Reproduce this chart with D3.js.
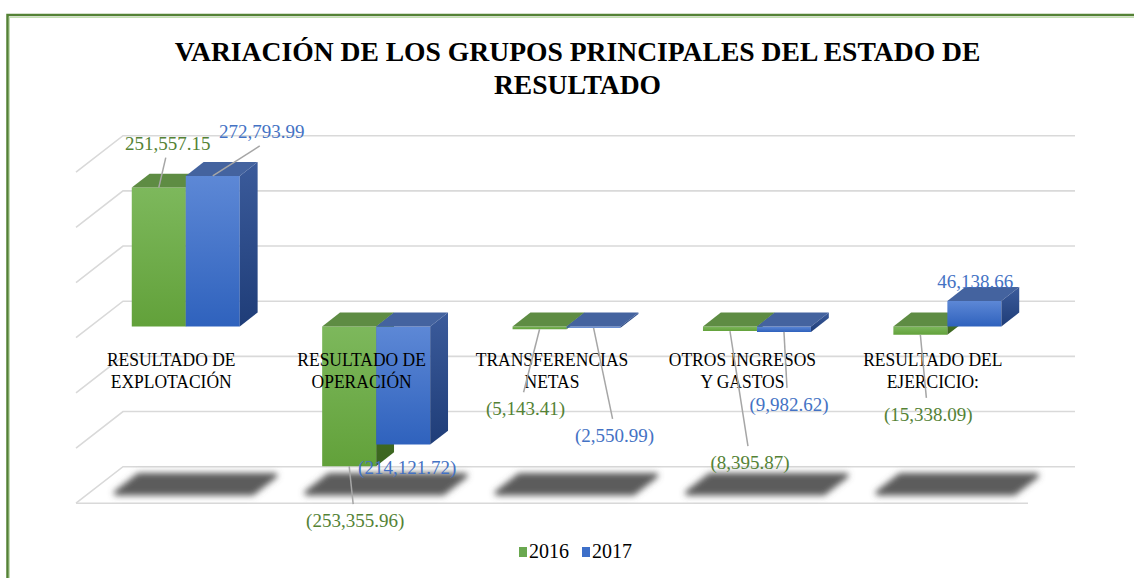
<!DOCTYPE html>
<html>
<head>
<meta charset="utf-8">
<script src="https://cdn.jsdelivr.net/npm/d3@7"></script>
<style>
  body { margin: 0; background: #fff; }
  text { font-family: "Liberation Serif", "Times New Roman", serif; }
</style>
</head>
<body>
<div id="chart"></div>
<script>
// data
var categories = [
  ['RESULTADO DE', 'EXPLOTACIÓN'],
  ['RESULTADO DE', 'OPERACIÓN'],
  ['TRANSFERENCIAS', 'NETAS'],
  ['OTROS INGRESOS', 'Y GASTOS'],
  ['RESULTADO DEL', 'EJERCICIO:']
];
var series = ['2016', '2017'];
var values2016 = [251557.15, -253355.96, -5143.41, -8395.87, -15338.09];
var values2017 = [272793.99, -214121.72, -2550.99, -9982.62, 46138.66];
var yTicks = [-300000, -200000, -100000, 0, 100000, 200000, 300000];
var titleLines = ['VARIACIÓN DE LOS GRUPOS PRINCIPALES DEL ESTADO DE', 'RESULTADO'];

// label nudges (dragged labels in the original), relative to bar end
var nudge2016 = [[9, -45], [6, 54], [-14, 79], [20, 131], [8, 79]];
var nudge2017 = [[49, -45], [4, 22], [21, 107], [5, 72], [1, -20]];

var width = 1134, height = 578;
var DX = 47, DY = 36.5;          // full depth offset of the 3d box
var Z0 = 0.31, Z1 = 0.69;        // bar depth range

var svg = d3.select('#chart').append('svg')
  .attr('width', width).attr('height', height);

var defs = svg.append('defs');
function grad(id, c1, c2) {
  var g = defs.append('linearGradient').attr('id', id)
    .attr('x1', 0).attr('y1', 0).attr('x2', 0).attr('y2', 1);
  g.append('stop').attr('offset', '0%').attr('stop-color', c1);
  g.append('stop').attr('offset', '100%').attr('stop-color', c2);
}
grad('gFront0', '#7db85c', '#62a13a');
grad('gSide0', '#4d7a2f', '#3b651f');
grad('gFront1', '#5d88d6', '#2f62bd');
grad('gSide1', '#3b5b9b', '#1f3d78');
var topCol = ['#5e8c43', '#44639f'];
var labelCol = ['#548235', '#4472c4'];

defs.append('filter').attr('id', 'blur')
  .attr('x', '-20%').attr('y', '-60%').attr('width', '140%').attr('height', '220%')
  .append('feGaussianBlur').attr('stdDeviation', 3.2);

// border
svg.append('rect').attr('x', 9.5).attr('y', 17.5).attr('width', 1200).attr('height', 700)
  .attr('fill', 'none').attr('stroke', '#c5e0b4').attr('stroke-width', 1);
svg.append('rect').attr('x', 7.5).attr('y', 15).attr('width', 1200).attr('height', 700)
  .attr('fill', 'none').attr('stroke', '#548235').attr('stroke-width', 2.5);

// scales
var x = d3.scaleBand().domain(d3.range(categories.length)).range([76, 1028]);
var xSub = d3.scaleBand().domain(series).range([0, 108]);
var groupOff = (x.bandwidth() - 108) / 2;
var yBack = d3.scaleLinear().domain([-300000, 300000]).range([466.7, 135.7]);

function P(px, v, z) { return [px + DX * z, yBack(v) + DY * (1 - z)]; }
function poly(pts) { return 'M' + pts.map(function(p) { return p.join(','); }).join('L') + 'Z'; }

var xL = x.range()[0], xR = x.range()[1];

// gridlines: back wall + left wall
var grid = svg.append('g').attr('stroke', '#d9d9d9').attr('stroke-width', 1.6).attr('fill', 'none');
yTicks.forEach(function(t) {
  grid.append('path').attr('d', 'M' + P(xL, t, 0).join(',') + 'L' + P(xL, t, 1).join(',') + 'L' + P(xR, t, 1).join(','));
});
// floor front edge
grid.append('path').attr('d', 'M' + P(xL, yTicks[0], 0).join(',') + 'L' + P(xR, yTicks[0], 0).join(','));

// floor shadows
var floorV = yTicks[0];
svg.append('g').attr('filter', 'url(#blur)')
  .selectAll('path').data(categories).enter().append('path')
  .attr('fill', '#5c5c5c')
  .attr('stroke', '#5c5c5c').attr('stroke-width', 5).attr('stroke-linejoin', 'round')
  .attr('d', function(d, i) {
    var cx = x(i) + x.bandwidth() / 2;
    return poly([P(cx - 68, floorV, 0.28), P(cx + 68, floorV, 0.28), P(cx + 68, floorV, 0.76), P(cx - 68, floorV, 0.76)]);
  });

// bars
var seriesValues = [values2016, values2017];
var bars = [];
categories.forEach(function(c, i) {
  series.forEach(function(s, k) {
    bars.push({ cat: i, k: k, v: seriesValues[k][i] });
  });
});

var barG = svg.append('g');
bars.forEach(function(b) {
  var x0 = x(b.cat) + groupOff + xSub(series[b.k]);
  var x1 = x0 + xSub.bandwidth();
  var lo = Math.min(0, b.v), hi = Math.max(0, b.v);
  var g = barG.append('g');
  g.append('path').attr('fill', 'url(#gFront' + b.k + ')')
    .attr('d', poly([P(x0, hi, Z0), P(x1, hi, Z0), P(x1, lo, Z0), P(x0, lo, Z0)]));
  g.append('path').attr('fill', topCol[b.k])
    .attr('d', poly([P(x0, hi, Z0), P(x1, hi, Z0), P(x1, hi, Z1), P(x0, hi, Z1)]));
  g.append('path').attr('fill', 'url(#gSide' + b.k + ')')
    .attr('d', poly([P(x1, hi, Z0), P(x1, hi, Z1), P(x1, lo, Z1), P(x1, lo, Z0)]));
  b.ax = (x0 + x1) / 2 + DX * Z0;
  b.ay = P(x0, b.v, Z0)[1];
});

// category labels
var catG = svg.append('g');
categories.forEach(function(c, i) {
  var cx = x(i) + x.bandwidth() / 2;
  var y0 = P(cx, 0, 0)[1];
  c.forEach(function(line, j) {
    catG.append('text')
      .attr('transform', 'translate(' + cx + ',' + (y0 + 28 + j * 22) + ') scale(1,1.06)')
      .attr('text-anchor', 'middle')
      .attr('font-size', 17.5)
      .attr('fill', '#000')
      .text(line);
  });
});

// data labels with leader lines
var fmt = d3.format(',.2f');
function label(v) { return v < 0 ? '(' + fmt(-v) + ')' : fmt(v); }
var nudges = [nudge2016, nudge2017];
var leadG = svg.append('g').attr('stroke', '#a6a6a6').attr('stroke-width', 1.5);
var labG = svg.append('g');
bars.forEach(function(b) {
  var n = nudges[b.k][b.cat];
  var cx = b.ax + n[0], cy = b.ay + n[1];
  if (Math.abs(n[1]) > 30) {
    var ey = n[1] < 0 ? cy + 15 : cy - 16;
    leadG.append('line')
      .attr('x1', cx - 2).attr('y1', ey)
      .attr('x2', b.ax).attr('y2', b.ay);
  }
  labG.append('text')
    .attr('x', cx).attr('y', cy + 7)
    .attr('text-anchor', 'middle')
    .attr('font-size', 19)
    .attr('fill', labelCol[b.k])
    .text(label(b.v));
});

// title
titleLines.forEach(function(t, i) {
  svg.append('text')
    .attr('x', 577.5).attr('y', 61 + i * 33)
    .attr('text-anchor', 'middle')
    .attr('font-size', 27.6)
    .attr('font-weight', 'bold')
    .attr('fill', '#000')
    .text(t);
});

// legend
var leg = svg.append('g').attr('transform', 'translate(519,551)');
series.forEach(function(s, k) {
  var g = leg.append('g').attr('transform', 'translate(' + (k * 63) + ',0)');
  g.append('rect').attr('x', 0).attr('y', -4).attr('width', 8).attr('height', 10)
    .attr('fill', k === 0 ? '#6aa84f' : '#3d6fc9');
  g.append('text').attr('x', 10).attr('y', 7).attr('font-size', 20).attr('fill', '#000').text(s);
});
</script>
</body>
</html>
